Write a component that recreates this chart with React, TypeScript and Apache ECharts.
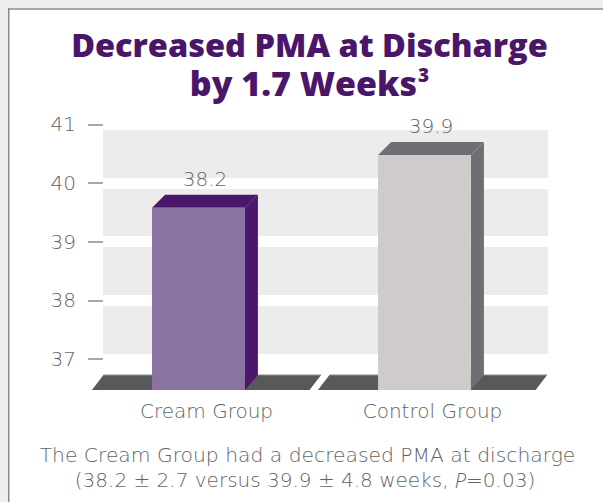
import { useEffect, useRef } from 'react';
import * as echarts from 'echarts';

const categories = ['Cream Group', 'Control Group'];
const pmaWeeks = [38.2, 39.9];
const pmaSD = [2.7, 4.8];
const pValue = '0.03';
const tickValues = [37, 38, 39, 40, 41];
// hidden scale that the drawn bars use (bar base sits below the printed tick range)
const barScaleMin = 32.32;
const barScaleMax = 40.89;

const FRONT = ['#8a72a3', '#cfcbca'];
const SIDE = ['#4b176b', '#6f6e72'];
const FLOOR = '#58595b';
const TEXT = '#626366';
const PURPLE = '#4a166a';
const BODY_FONT = '"DejaVu Sans", "Open Sans", sans-serif';
const BODY_WEIGHT = 200;
const TITLE_FONT = '"Open Sans", Lato, sans-serif';

export default function App() {
  const ref = useRef<HTMLDivElement>(null);
  useEffect(() => {
    const chart = echarts.init(ref.current!, null, { renderer: 'svg' });
    const option: any = {
      animation: false,
      backgroundColor: '#ffffff',
      grid: [
        { left: 103, right: 55, top: 124.3, height: 234.7, show: true, backgroundColor: '#ececec', borderWidth: 0 },
        { left: 93.5, right: 57.5, top: 124.3, bottom: 502 - 390 },
      ],
      xAxis: [
        { gridIndex: 0, type: 'category', data: categories, show: false },
        {
          gridIndex: 1, type: 'category', data: categories,
          axisLine: { show: false }, axisTick: { show: false },
          axisLabel: { margin: 11, fontSize: 20, color: TEXT, fontFamily: BODY_FONT, fontWeight: BODY_WEIGHT },
        },
      ],
      yAxis: [
        {
          gridIndex: 0, type: 'value', min: tickValues[0], max: tickValues[tickValues.length - 1], interval: 1,
          axisLine: { show: false },
          axisTick: { show: true, length: 15, lineStyle: { color: '#8a8a8a', width: 1.5 } },
          axisLabel: { margin: 27, fontSize: 20, color: TEXT, fontFamily: BODY_FONT, fontWeight: BODY_WEIGHT },
          splitLine: { show: true, lineStyle: { color: '#ffffff', width: 11 } },
        },
        { gridIndex: 1, type: 'value', min: barScaleMin, max: barScaleMax, show: false },
      ],
      series: [
        {
          type: 'custom',
          xAxisIndex: 1,
          yAxisIndex: 1,
          data: pmaWeeks.map((v, i) => [i, v]),
          renderItem: (params: any, api: any) => {
            const i = params.dataIndex;
            const val = api.value(1);
            const top = api.coord([api.value(0), val]);
            const base = api.coord([api.value(0), barScaleMin]);
            const bw = api.size([1, 0])[0];
            const cx = top[0];
            const fl = cx - 0.241 * bw;
            const fr = cx + 0.17 * bw;
            const d = 13;
            const by = base[1];
            const ty = top[1];
            const fh = 15;
            const fdx = 11.5;
            const ftl = cx - 0.456 * bw;
            const ftr = cx + 0.507 * bw;
            return {
              type: 'group',
              children: [
                { type: 'polygon', shape: { points: [[ftl, by - fh], [ftr, by - fh], [ftr - fdx, by], [ftl - fdx, by]] }, style: { fill: FLOOR } },
                { type: 'line', shape: { x1: ftl, y1: by - fh, x2: ftr, y2: by - fh }, style: { stroke: '#8d8e90', lineWidth: 1 } },
                { type: 'polygon', shape: { points: [[fr, ty], [fr + d, ty - d], [fr + d, by - fh], [fr, by]] }, style: { fill: SIDE[i] } },
                { type: 'polygon', shape: { points: [[fl, ty], [fl + d, ty - d], [fr + d, ty - d], [fr, ty]] }, style: { fill: SIDE[i] } },
                { type: 'rect', shape: { x: fl, y: ty, width: fr - fl, height: by - ty }, style: { fill: FRONT[i] } },
                {
                  type: 'text',
                  x: (fl + fr + d) / 2,
                  y: ty - d - 16,
                  style: { text: String(val), fill: TEXT, fontSize: 20, fontFamily: BODY_FONT, fontWeight: BODY_WEIGHT, align: 'center', verticalAlign: 'middle' },
                },
              ],
            };
          },
        },
      ],
      graphic: [
        { type: 'rect', shape: { x: 0, y: 0, width: 603, height: 8 }, style: { fill: '#eeeeee' } },
        { type: 'rect', shape: { x: 0, y: 0, width: 8, height: 502 }, style: { fill: '#eeeeee' } },
        { type: 'rect', shape: { x: 8, y: 8, width: 595, height: 2 }, style: { fill: '#a6a6a6' } },
        { type: 'rect', shape: { x: 8, y: 8, width: 1.5, height: 494 }, style: { fill: '#8a8a8a' } },
        {
          type: 'text', x: 309.5, y: 63.5,
          style: {
            text: '{a|Decreased PMA at Discharge}\n{b|by 1.7 Weeks}{s|3}', align: 'center', verticalAlign: 'middle',
            rich: {
              a: { fill: PURPLE, fontSize: 32.5, fontWeight: 800, fontFamily: TITLE_FONT, lineHeight: 38 },
              b: { fill: PURPLE, fontSize: 34, fontWeight: 800, fontFamily: TITLE_FONT, lineHeight: 38 },
              s: { fill: PURPLE, fontSize: 19, fontWeight: 800, fontFamily: TITLE_FONT, lineHeight: 26, verticalAlign: 'top', padding: [2, 0, 0, 1] },
            },
          },
        },
        {
          type: 'text', x: 307.5, y: 455,
          style: { text: 'The Cream Group had a decreased PMA at discharge', fill: TEXT, fontSize: 20.3, fontWeight: BODY_WEIGHT, fontFamily: BODY_FONT, align: 'center', verticalAlign: 'middle' },
        },
        {
          type: 'text', x: 305, y: 480,
          style: {
            text: `{n|(${pmaWeeks[0]} ± ${pmaSD[0]} versus ${pmaWeeks[1]} ± ${pmaSD[1]} weeks, }{i|P}{n|=${pValue})}`,
            align: 'center', verticalAlign: 'middle',
            rich: {
              n: { fill: TEXT, fontSize: 20, fontWeight: BODY_WEIGHT, fontFamily: BODY_FONT },
              i: { fill: TEXT, fontSize: 20, fontWeight: 300, fontStyle: 'italic', fontFamily: '"Open Sans", sans-serif' },
            },
          },
        },
      ],
    };
    chart.setOption(option);
    return () => chart.dispose();
  }, []);
  return <div ref={ref} style={{ position: 'fixed', left: 0, top: 0, width: 603, height: 502 }} />;
}
